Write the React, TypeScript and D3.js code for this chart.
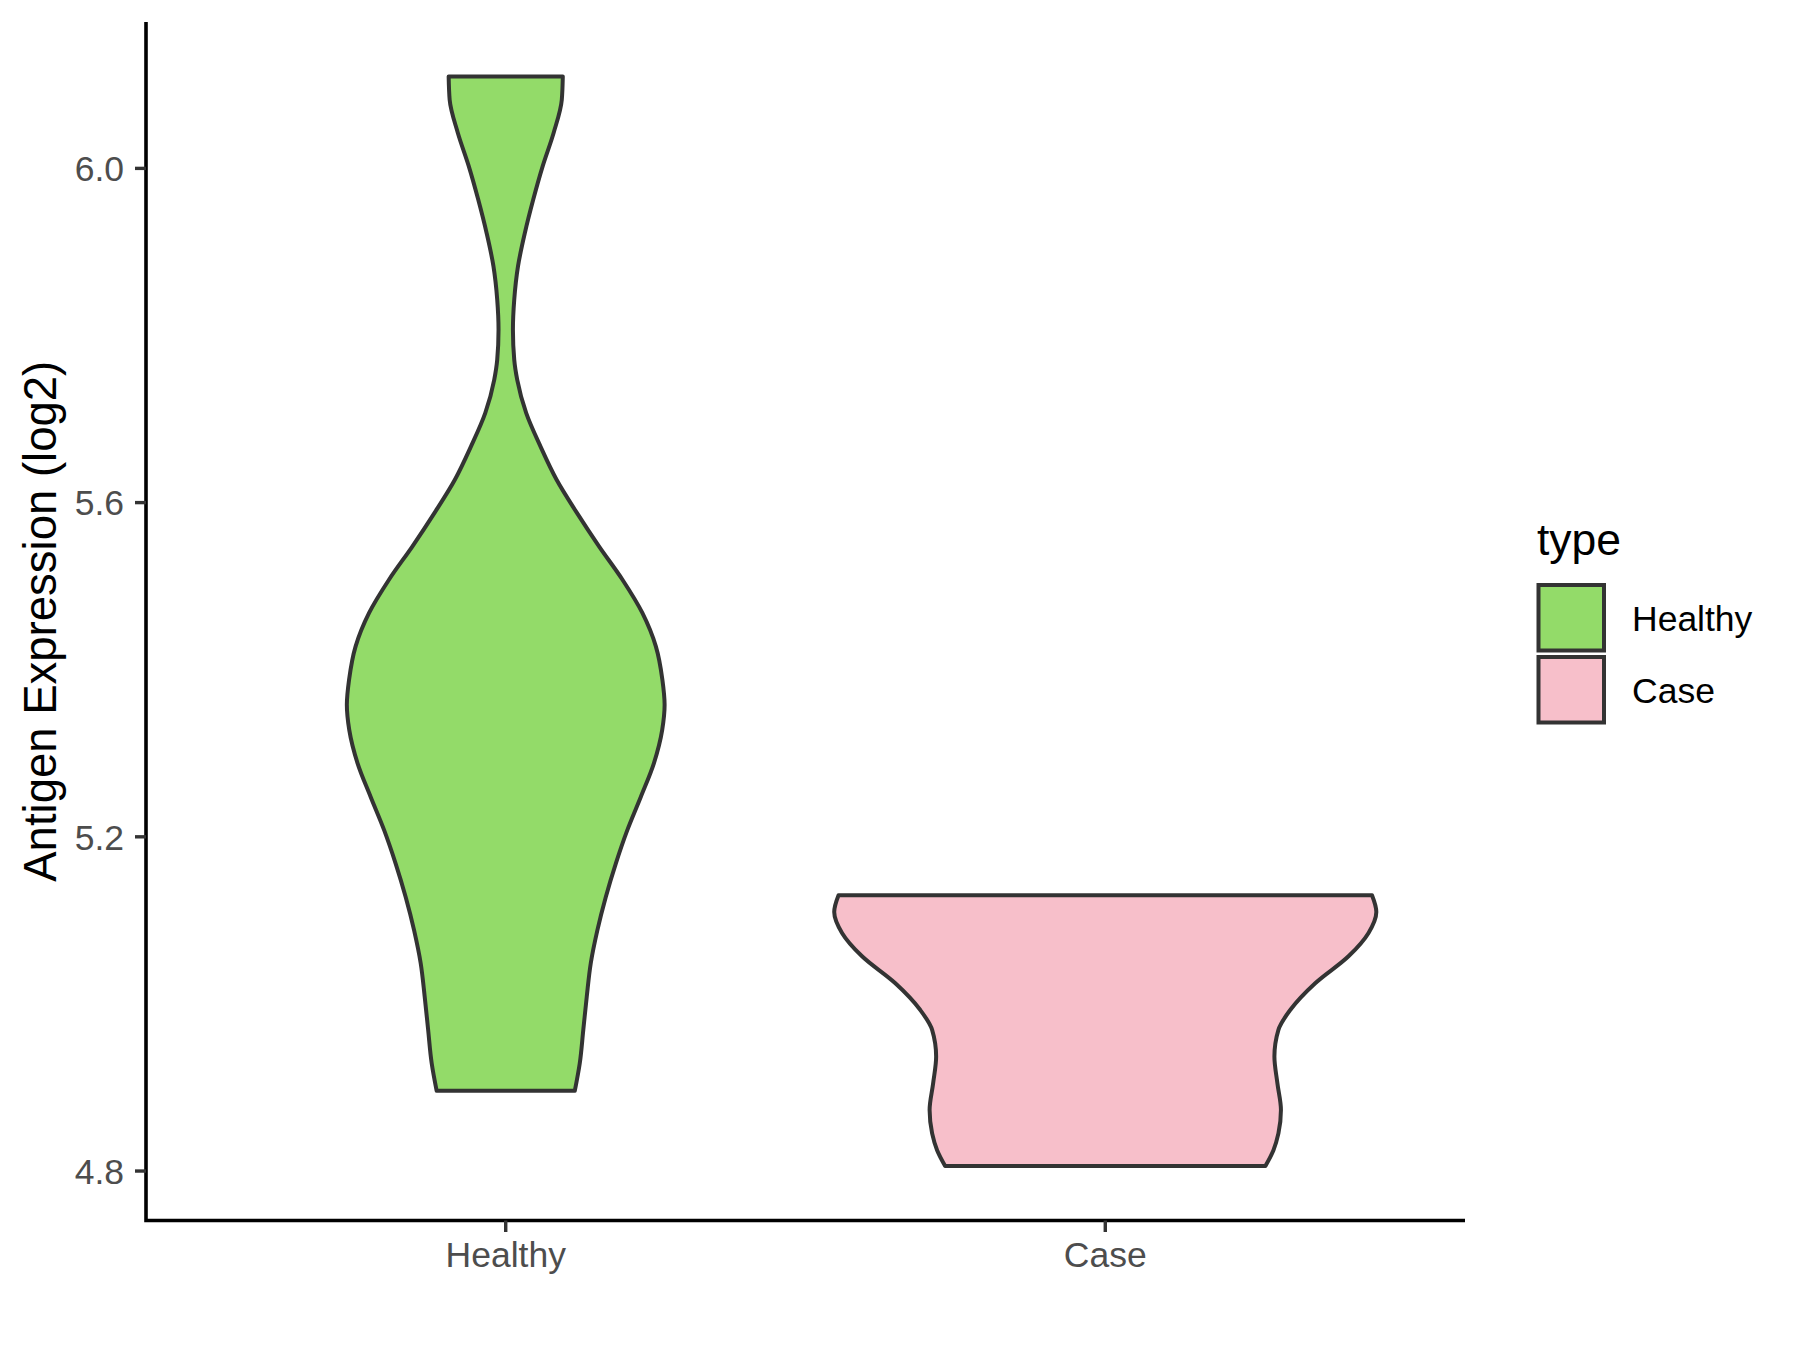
import React from 'react';
import * as d3 from 'd3';

const categories = ['Healthy', 'Case'];
const fills = ['#93DB69', '#F7BFCA'];
const yTicks = [4.8, 5.2, 5.6, 6.0];
const yTitle = 'Antigen Expression (log2)';
const legendTitle = 'type';

// violin outlines: value (log2) and half-width in category units
const healthyY = [6.110, 6.082, 6.043, 6.003, 5.963, 5.923, 5.883, 5.843, 5.807, 5.771, 5.747, 5.707, 5.667, 5.627, 5.588, 5.548, 5.508, 5.468, 5.428, 5.388, 5.358, 5.328, 5.288, 5.248, 5.208, 5.168, 5.128, 5.088, 5.049, 5.009, 4.969, 4.929, 4.896];
const healthyWidth = [0.0952, 0.0935, 0.0801, 0.0618, 0.0460, 0.0320, 0.0205, 0.0142, 0.0120, 0.0142, 0.0192, 0.0342, 0.0581, 0.0851, 0.1185, 0.1553, 0.1945, 0.2279, 0.2504, 0.2613, 0.2650, 0.2610, 0.2471, 0.2254, 0.2028, 0.1836, 0.1669, 0.1528, 0.1419, 0.1352, 0.1294, 0.1235, 0.1152];

const caseY = [5.130, 5.110, 5.085, 5.057, 5.025, 4.993, 4.969, 4.937, 4.905, 4.873, 4.845, 4.825, 4.806];
const caseWidth = [0.4449, 0.4521, 0.4391, 0.4057, 0.3506, 0.3088, 0.2888, 0.2821, 0.2871, 0.2930, 0.2888, 0.2805, 0.2671];

const violinY = [healthyY, caseY];
const violinW = [healthyWidth, caseWidth];

const W = 1800;
const H = 1350;
const panel = { left: 146, right: 1465, top: 22, bottom: 1220.5 };
const FONT = '"Liberation Sans", Arial, Helvetica, sans-serif';

export default function App() {
  const allY = [...healthyY, ...caseY];
  const yMin = d3.min(allY) as number;
  const yMax = d3.max(allY) as number;
  const pad = (yMax - yMin) * 0.05;
  const y = d3.scaleLinear().domain([yMin - pad, yMax + pad]).range([panel.bottom, panel.top]);
  const x = d3.scaleLinear().domain([0.4, categories.length + 0.6]).range([panel.left, panel.right]);

  const paths = categories.map((c, i) => {
    const pts = violinY[i]
      .map((v, j) => ({ v, w: violinW[i][j] }))
      .sort((a, b) => a.v - b.v);
    const area = d3
      .area<{ v: number; w: number }>()
      .x0((d) => x(i + 1 - d.w))
      .x1((d) => x(i + 1 + d.w))
      .y((d) => y(d.v))
      .curve(d3.curveMonotoneY);
    return area(pts) as string;
  });

  const legendX = 1538.5;
  const legendTop = 585;
  const keySize = 65.5;
  const keyStep = 72;

  return (
    <svg width={W} height={H} style={{ position: 'absolute', left: 0, top: 0, background: '#fff' }} fontFamily={FONT}>
      <rect x={0} y={0} width={W} height={H} fill="#fff" />
      {paths.map((p, i) => (
        <path key={categories[i]} d={p} fill={fills[i]} stroke="#333333" strokeWidth={4} strokeLinejoin="round" />
      ))}
      {/* axes */}
      <path
        d={`M${panel.left},${panel.top} V${panel.bottom} H${panel.right}`}
        fill="none"
        stroke="#000"
        strokeWidth={3.6}
        strokeLinejoin="miter"
      />
      {yTicks.map((t) => (
        <g key={t}>
          <line x1={panel.left - 11} x2={panel.left} y1={y(t)} y2={y(t)} stroke="#333333" strokeWidth={3.4} />
          <text x={124} y={y(t)} dy="0.36em" textAnchor="end" fontSize={35.5} fill="#4D4D4D">
            {t.toFixed(1)}
          </text>
        </g>
      ))}
      {categories.map((c, i) => (
        <g key={c}>
          <line x1={x(i + 1)} x2={x(i + 1)} y1={panel.bottom} y2={panel.bottom + 11.5} stroke="#333333" strokeWidth={3.4} />
          <text x={x(i + 1)} y={1266.7} textAnchor="middle" fontSize={35.5} fill="#4D4D4D">
            {c}
          </text>
        </g>
      ))}
      <text
        transform={`translate(55.8, ${(panel.top + panel.bottom) / 2}) rotate(-90)`}
        textAnchor="middle"
        fontSize={45.5}
        fill="#000"
      >
        {yTitle}
      </text>
      {/* legend */}
      <text x={1537} y={555} fontSize={44.5} fill="#000">
        {legendTitle}
      </text>
      {categories.map((c, i) => (
        <g key={'lg' + c}>
          <rect
            x={legendX}
            y={legendTop + i * keyStep}
            width={keySize}
            height={keySize}
            fill={fills[i]}
            stroke="#333333"
            strokeWidth={4}
          />
          <text x={1632} y={legendTop + i * keyStep + keySize / 2} dy="0.36em" fontSize={35.5} fill="#000">
            {c}
          </text>
        </g>
      ))}
    </svg>
  );
}
